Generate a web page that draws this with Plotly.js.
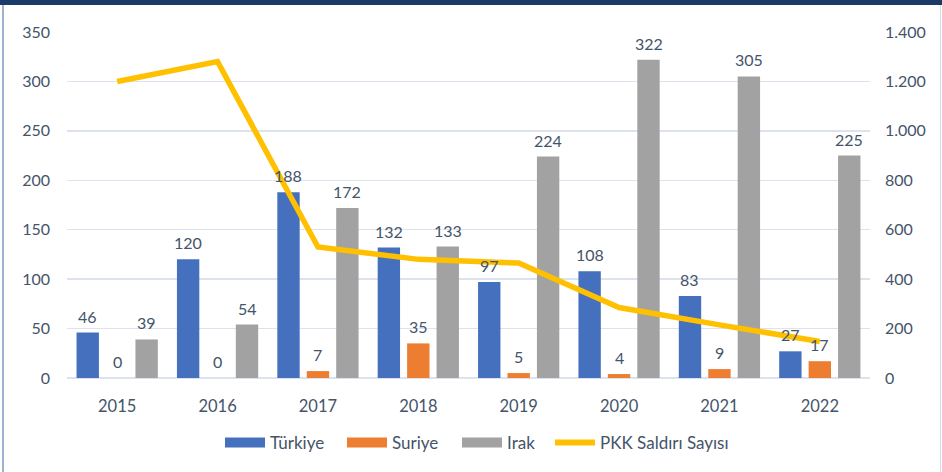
<!DOCTYPE html>
<html>
<head>
<meta charset="utf-8">
<script src="https://cdn.plot.ly/plotly-3.0.1.min.js"></script>
<style>
  html, body { margin: 0; padding: 0; background: #ffffff; }
  #wrap { position: relative; width: 942px; height: 472px; overflow: hidden; }
  #chart { position: absolute; left: 0; top: 0; width: 942px; height: 472px; }
  #topbar { position: absolute; left: 0; top: 0; width: 942px; height: 5px; background: #1B3A68; pointer-events: none; }
  #leftbar { position: absolute; left: 2px; top: 5px; width: 2px; height: 467px; background: #9FB1CC; pointer-events: none; }
  #rightbar { position: absolute; right: 1px; top: 5px; width: 1px; height: 467px; background: #D5DCE8; pointer-events: none; }
</style>
</head>
<body>
<div id="wrap">
  <div id="chart"></div>
  <div id="topbar"></div>
  <div id="leftbar"></div>
  <div id="rightbar"></div>
</div>
<script>
const years = ['2015', '2016', '2017', '2018', '2019', '2020', '2021', '2022'];
const turkiye = [46, 120, 188, 132, 97, 108, 83, 27];
const suriye = [0, 0, 7, 35, 5, 4, 9, 17];
const irak = [39, 54, 172, 133, 224, 322, 305, 225];
const pkk = [1200, 1280, 530, 480, 465, 285, 215, 148];
const seriesNames = ['Türkiye', 'Suriye', 'Irak', 'PKK Saldırı Sayısı'];

const FONT = 'Lato, "Open Sans", sans-serif';
const TXT = '#44546A';
const colors = ['#4570BE', '#ED7D31', '#A2A2A2', '#FFC000'];
const BARGAP = 0.12;
const barSeries = [turkiye, suriye, irak];

function barTrace(name, vals, color) {
  return {
    type: 'bar', name: name, x: years, y: vals,
    marker: { color: color, line: { width: 0 } },
    showlegend: false, hoverinfo: 'x+y+name'
  };
}
const legendIds = ['legend', 'legend2', 'legend3', 'legend4'];
function legendProxy(idx, width) {
  return {
    type: 'scatter', mode: 'lines', name: seriesNames[idx], x: [null], y: [null],
    line: { color: colors[idx], width: width }, showlegend: true, hoverinfo: 'skip',
    legend: legendIds[idx]
  };
}

const data = [
  barTrace(seriesNames[0], turkiye, colors[0]),
  barTrace(seriesNames[1], suriye, colors[1]),
  barTrace(seriesNames[2], irak, colors[2]),
  {
    type: 'scatter', mode: 'lines', name: seriesNames[3], x: years, y: pkk, yaxis: 'y2',
    line: { color: colors[3], width: 5.5 }, showlegend: false
  },
  legendProxy(0, 10), legendProxy(1, 10), legendProxy(2, 10), legendProxy(3, 6)
];

// value labels, positioned at each bar's slot in the group
const slot = (1 - BARGAP) / barSeries.length;
const annotations = [];
barSeries.forEach((vals, k) => {
  vals.forEach((v, i) => {
    annotations.push({
      x: i + (k - (barSeries.length - 1) / 2) * slot, y: v, xref: 'x', yref: 'y',
      text: String(v), showarrow: false, xanchor: 'center', yanchor: 'bottom', yshift: 5,
      font: { family: FONT, size: 16, color: TXT }
    });
  });
});

// separate legends so each entry can sit where the reference puts it
const legendX = [220, 342, 457, 550].map(px => (px - 67) / 803);
const legendBase = {
  orientation: 'h', xanchor: 'left', y: -0.184, yanchor: 'middle', itemwidth: 40,
  font: { family: FONT, size: 17, color: TXT }, bgcolor: 'rgba(0,0,0,0)'
};

const layout = {
  width: 942, height: 472,
  margin: { l: 67, r: 72, t: 32, b: 93 },
  paper_bgcolor: '#ffffff', plot_bgcolor: '#ffffff',
  font: { family: FONT, size: 16, color: TXT },
  separators: ',.',
  barmode: 'group', bargap: BARGAP, bargroupgap: 0.24,
  showlegend: true,
  legend: Object.assign({}, legendBase, { x: legendX[0] }),
  legend2: Object.assign({}, legendBase, { x: legendX[1] }),
  legend3: Object.assign({}, legendBase, { x: legendX[2] }),
  legend4: Object.assign({}, legendBase, { x: legendX[3] }),
  annotations: annotations,
  xaxis: {
    type: 'category', showgrid: false, zeroline: false, showline: false,
    ticks: '', tickfont: { family: FONT, size: 16.5, color: TXT }, ticklabelstandoff: 16
  },
  yaxis: {
    range: [0, 350], dtick: 50, tick0: 0, showgrid: true, gridcolor: '#DCE3EE', gridwidth: 1.5,
    zeroline: true, zerolinecolor: '#DCE3EE', zerolinewidth: 1.5, showline: false, ticks: '',
    tickfont: { family: FONT, size: 16, color: TXT }, ticklabelstandoff: 16
  },
  yaxis2: {
    overlaying: 'y', side: 'right', range: [0, 1400], dtick: 200, tick0: 0,
    showgrid: false, zeroline: false, showline: false, ticks: '', separatethousands: true,
    tickfont: { family: FONT, size: 16, color: TXT }, ticklabelstandoff: 14
  }
};

Plotly.newPlot('chart', data, layout, { displayModeBar: false, staticPlot: true });
</script>
</body>
</html>
